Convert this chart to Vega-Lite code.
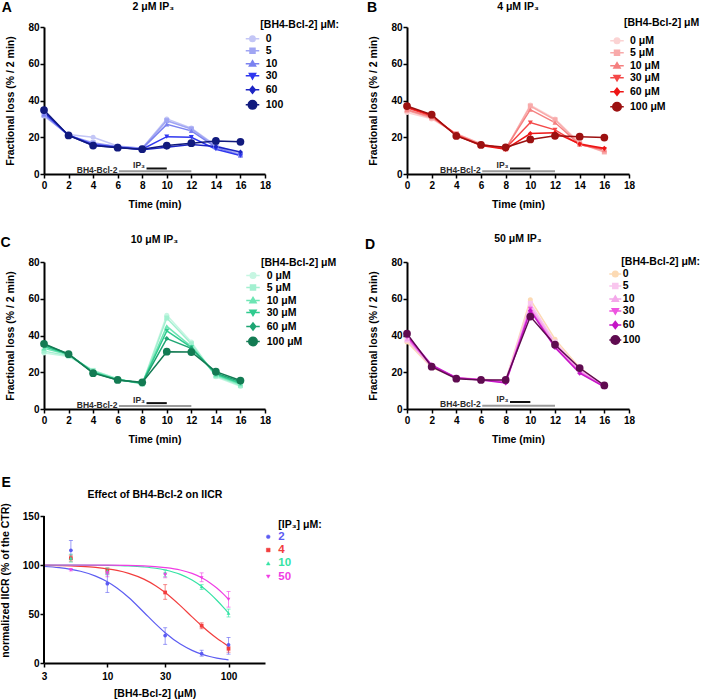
{
  "$schema": "https://vega.github.io/schema/vega-lite/v6.json",
  "autosize": "none",
  "padding": {"left": 44, "top": 27, "right": 664, "bottom": 672},
  "background": "white",
  "bounds": "flush",
  "align": "each",
  "columns": 2,
  "spacing": {"row": 88, "column": 142},
  "datasets": {
    "kin": [
      {"p":"A","c":"0","t":0,"v":31.5},{"p":"A","c":"0","t":2,"v":21.5},{"p":"A","c":"0","t":4,"v":20},{"p":"A","c":"0","t":6,"v":15.2},{"p":"A","c":"0","t":8,"v":14},{"p":"A","c":"0","t":10,"v":30},{"p":"A","c":"0","t":12,"v":25},{"p":"A","c":"0","t":14,"v":15.5},{"p":"A","c":"0","t":16,"v":11},
      {"p":"A","c":"5","t":0,"v":32},{"p":"A","c":"5","t":2,"v":21},{"p":"A","c":"5","t":4,"v":17},{"p":"A","c":"5","t":6,"v":15},{"p":"A","c":"5","t":8,"v":14},{"p":"A","c":"5","t":10,"v":29},{"p":"A","c":"5","t":12,"v":24.5},{"p":"A","c":"5","t":14,"v":15},{"p":"A","c":"5","t":16,"v":10.5},
      {"p":"A","c":"10","t":0,"v":32.5},{"p":"A","c":"10","t":2,"v":21},{"p":"A","c":"10","t":4,"v":16.5},{"p":"A","c":"10","t":6,"v":14.8},{"p":"A","c":"10","t":8,"v":13.8},{"p":"A","c":"10","t":10,"v":27},{"p":"A","c":"10","t":12,"v":23.5},{"p":"A","c":"10","t":14,"v":14.5},{"p":"A","c":"10","t":16,"v":10},
      {"p":"A","c":"30","t":0,"v":33.5},{"p":"A","c":"30","t":2,"v":21.2},{"p":"A","c":"30","t":4,"v":16},{"p":"A","c":"30","t":6,"v":14.5},{"p":"A","c":"30","t":8,"v":13.5},{"p":"A","c":"30","t":10,"v":20.3},{"p":"A","c":"30","t":12,"v":20},{"p":"A","c":"30","t":14,"v":13.5},{"p":"A","c":"30","t":16,"v":10},
      {"p":"A","c":"60","t":0,"v":34},{"p":"A","c":"60","t":2,"v":21},{"p":"A","c":"60","t":4,"v":15.5},{"p":"A","c":"60","t":6,"v":14.5},{"p":"A","c":"60","t":8,"v":13.2},{"p":"A","c":"60","t":10,"v":14.5},{"p":"A","c":"60","t":12,"v":16},{"p":"A","c":"60","t":14,"v":15},{"p":"A","c":"60","t":16,"v":12},
      {"p":"A","c":"100","t":0,"v":34.8},{"p":"A","c":"100","t":2,"v":21},{"p":"A","c":"100","t":4,"v":15.5},{"p":"A","c":"100","t":6,"v":14.3},{"p":"A","c":"100","t":8,"v":13.5},{"p":"A","c":"100","t":10,"v":15.5},{"p":"A","c":"100","t":12,"v":16.8},{"p":"A","c":"100","t":14,"v":18},{"p":"A","c":"100","t":16,"v":17.5},
      {"p":"B","c":"0","t":0,"v":33.5},{"p":"B","c":"0","t":2,"v":30},{"p":"B","c":"0","t":4,"v":22},{"p":"B","c":"0","t":6,"v":16.5},{"p":"B","c":"0","t":8,"v":13.5},{"p":"B","c":"0","t":10,"v":37.5},{"p":"B","c":"0","t":12,"v":30},{"p":"B","c":"0","t":14,"v":17},{"p":"B","c":"0","t":16,"v":12.5},
      {"p":"B","c":"5","t":0,"v":34.5},{"p":"B","c":"5","t":2,"v":30.5},{"p":"B","c":"5","t":4,"v":22},{"p":"B","c":"5","t":6,"v":16.3},{"p":"B","c":"5","t":8,"v":13.5},{"p":"B","c":"5","t":10,"v":37},{"p":"B","c":"5","t":12,"v":29.5},{"p":"B","c":"5","t":14,"v":16.5},{"p":"B","c":"5","t":16,"v":12},
      {"p":"B","c":"10","t":0,"v":35},{"p":"B","c":"10","t":2,"v":31},{"p":"B","c":"10","t":4,"v":21.5},{"p":"B","c":"10","t":6,"v":16},{"p":"B","c":"10","t":8,"v":13.8},{"p":"B","c":"10","t":10,"v":35},{"p":"B","c":"10","t":12,"v":28},{"p":"B","c":"10","t":14,"v":16},{"p":"B","c":"10","t":16,"v":13},
      {"p":"B","c":"30","t":0,"v":36},{"p":"B","c":"30","t":2,"v":31.5},{"p":"B","c":"30","t":4,"v":21.3},{"p":"B","c":"30","t":6,"v":15.8},{"p":"B","c":"30","t":8,"v":14},{"p":"B","c":"30","t":10,"v":28},{"p":"B","c":"30","t":12,"v":24},{"p":"B","c":"30","t":14,"v":16},{"p":"B","c":"30","t":16,"v":13.5},
      {"p":"B","c":"60","t":0,"v":36.5},{"p":"B","c":"60","t":2,"v":32},{"p":"B","c":"60","t":4,"v":21},{"p":"B","c":"60","t":6,"v":15.5},{"p":"B","c":"60","t":8,"v":13.5},{"p":"B","c":"60","t":10,"v":22},{"p":"B","c":"60","t":12,"v":22.5},{"p":"B","c":"60","t":14,"v":16.3},{"p":"B","c":"60","t":16,"v":14},
      {"p":"B","c":"100","t":0,"v":37},{"p":"B","c":"100","t":2,"v":32.3},{"p":"B","c":"100","t":4,"v":20.7},{"p":"B","c":"100","t":6,"v":15.8},{"p":"B","c":"100","t":8,"v":14.5},{"p":"B","c":"100","t":10,"v":18.8},{"p":"B","c":"100","t":12,"v":20.8},{"p":"B","c":"100","t":14,"v":20.3},{"p":"B","c":"100","t":16,"v":19.8},
      {"p":"C","c":"0","t":0,"v":30.5},{"p":"C","c":"0","t":2,"v":28.5},{"p":"C","c":"0","t":4,"v":21},{"p":"C","c":"0","t":6,"v":16.5},{"p":"C","c":"0","t":8,"v":13.5},{"p":"C","c":"0","t":10,"v":51},{"p":"C","c":"0","t":12,"v":36.5},{"p":"C","c":"0","t":14,"v":17.5},{"p":"C","c":"0","t":16,"v":12.3},
      {"p":"C","c":"5","t":0,"v":31.5},{"p":"C","c":"5","t":2,"v":29},{"p":"C","c":"5","t":4,"v":21},{"p":"C","c":"5","t":6,"v":16.3},{"p":"C","c":"5","t":8,"v":13.5},{"p":"C","c":"5","t":10,"v":49.5},{"p":"C","c":"5","t":12,"v":35.5},{"p":"C","c":"5","t":14,"v":18},{"p":"C","c":"5","t":16,"v":12.8},
      {"p":"C","c":"10","t":0,"v":33},{"p":"C","c":"10","t":2,"v":29.5},{"p":"C","c":"10","t":4,"v":20.5},{"p":"C","c":"10","t":6,"v":16},{"p":"C","c":"10","t":8,"v":14},{"p":"C","c":"10","t":10,"v":45},{"p":"C","c":"10","t":12,"v":34},{"p":"C","c":"10","t":14,"v":18.5},{"p":"C","c":"10","t":16,"v":13.5},
      {"p":"C","c":"30","t":0,"v":34},{"p":"C","c":"30","t":2,"v":29.8},{"p":"C","c":"30","t":4,"v":20},{"p":"C","c":"30","t":6,"v":16},{"p":"C","c":"30","t":8,"v":14},{"p":"C","c":"30","t":10,"v":42.5},{"p":"C","c":"30","t":12,"v":33.5},{"p":"C","c":"30","t":14,"v":19},{"p":"C","c":"30","t":16,"v":14},
      {"p":"C","c":"60","t":0,"v":35},{"p":"C","c":"60","t":2,"v":30},{"p":"C","c":"60","t":4,"v":19.8},{"p":"C","c":"60","t":6,"v":15.8},{"p":"C","c":"60","t":8,"v":14.2},{"p":"C","c":"60","t":10,"v":38.3},{"p":"C","c":"60","t":12,"v":33},{"p":"C","c":"60","t":14,"v":19.5},{"p":"C","c":"60","t":16,"v":14.8},
      {"p":"C","c":"100","t":0,"v":35.5},{"p":"C","c":"100","t":2,"v":29.8},{"p":"C","c":"100","t":4,"v":19.5},{"p":"C","c":"100","t":6,"v":15.8},{"p":"C","c":"100","t":8,"v":14.5},{"p":"C","c":"100","t":10,"v":31.2},{"p":"C","c":"100","t":12,"v":31},{"p":"C","c":"100","t":14,"v":20.3},{"p":"C","c":"100","t":16,"v":15.5},
      {"p":"D","c":"0","t":0,"v":36.5},{"p":"D","c":"0","t":2,"v":22.5},{"p":"D","c":"0","t":4,"v":17},{"p":"D","c":"0","t":6,"v":16.2},{"p":"D","c":"0","t":8,"v":15.5},{"p":"D","c":"0","t":10,"v":59.5},{"p":"D","c":"0","t":12,"v":38},{"p":"D","c":"0","t":14,"v":22.5},{"p":"D","c":"0","t":16,"v":12.5},
      {"p":"D","c":"5","t":0,"v":37.5},{"p":"D","c":"5","t":2,"v":23},{"p":"D","c":"5","t":4,"v":17.2},{"p":"D","c":"5","t":6,"v":16.1},{"p":"D","c":"5","t":8,"v":15.5},{"p":"D","c":"5","t":10,"v":57.5},{"p":"D","c":"5","t":12,"v":36.5},{"p":"D","c":"5","t":14,"v":21.5},{"p":"D","c":"5","t":16,"v":12.5},
      {"p":"D","c":"10","t":0,"v":38},{"p":"D","c":"10","t":2,"v":23},{"p":"D","c":"10","t":4,"v":17},{"p":"D","c":"10","t":6,"v":16},{"p":"D","c":"10","t":8,"v":15},{"p":"D","c":"10","t":10,"v":56},{"p":"D","c":"10","t":12,"v":35.5},{"p":"D","c":"10","t":14,"v":21},{"p":"D","c":"10","t":16,"v":12.3},
      {"p":"D","c":"30","t":0,"v":39},{"p":"D","c":"30","t":2,"v":23.5},{"p":"D","c":"30","t":4,"v":16.8},{"p":"D","c":"30","t":6,"v":16},{"p":"D","c":"30","t":8,"v":14.5},{"p":"D","c":"30","t":10,"v":54.5},{"p":"D","c":"30","t":12,"v":34},{"p":"D","c":"30","t":14,"v":20},{"p":"D","c":"30","t":16,"v":12.2},
      {"p":"D","c":"60","t":0,"v":40},{"p":"D","c":"60","t":2,"v":24},{"p":"D","c":"60","t":4,"v":17},{"p":"D","c":"60","t":6,"v":15.8},{"p":"D","c":"60","t":8,"v":14.2},{"p":"D","c":"60","t":10,"v":53.5},{"p":"D","c":"60","t":12,"v":33.5},{"p":"D","c":"60","t":14,"v":19.5},{"p":"D","c":"60","t":16,"v":12},
      {"p":"D","c":"100","t":0,"v":41},{"p":"D","c":"100","t":2,"v":23},{"p":"D","c":"100","t":4,"v":16.5},{"p":"D","c":"100","t":6,"v":15.8},{"p":"D","c":"100","t":8,"v":15.8},{"p":"D","c":"100","t":10,"v":50.3},{"p":"D","c":"100","t":12,"v":35},{"p":"D","c":"100","t":14,"v":22.3},{"p":"D","c":"100","t":16,"v":12.8}
    ],
    "treat": [
      {"treat": "BH4-Bcl-2", "start": 6.1, "end": 12},
      {"treat": "IP₃", "start": 8.35, "end": 10}
    ],
    "epts": [
      {"ip":"2","x":5,"v":115,"lo":106,"hi":125},{"ip":"2","x":10,"v":81,"lo":72,"hi":91},{"ip":"2","x":30,"v":28,"lo":19,"hi":36},{"ip":"2","x":60,"v":9.5,"lo":7,"hi":13},{"ip":"2","x":100,"v":18.5,"lo":9,"hi":26},
      {"ip":"4","x":5,"v":107,"lo":104,"hi":110},{"ip":"4","x":10,"v":94,"lo":91,"hi":97},{"ip":"4","x":30,"v":72,"lo":65,"hi":80},{"ip":"4","x":60,"v":38,"lo":35,"hi":41},{"ip":"4","x":100,"v":14.5,"lo":11,"hi":17},
      {"ip":"10","x":5,"v":107,"lo":103,"hi":111},{"ip":"10","x":10,"v":94,"lo":90,"hi":97},{"ip":"10","x":30,"v":92,"lo":88,"hi":95},{"ip":"10","x":60,"v":78,"lo":75,"hi":80},{"ip":"10","x":100,"v":51,"lo":47,"hi":55},
      {"ip":"50","x":5,"v":95,"lo":94,"hi":96},{"ip":"50","x":10,"v":92,"lo":88,"hi":95},{"ip":"50","x":30,"v":90,"lo":87,"hi":92},{"ip":"50","x":60,"v":87,"lo":83,"hi":92},{"ip":"50","x":100,"v":65,"lo":57,"hi":73}
    ],
    "ecurve": [
      {"ip":"2","x":3,"v":98.5},{"ip":"2","x":4,"v":97.3},{"ip":"2","x":5,"v":95.6},{"ip":"2","x":6,"v":93.6},{"ip":"2","x":8,"v":88.7},{"ip":"2","x":10,"v":82.9},{"ip":"2","x":12,"v":76.5},{"ip":"2","x":15,"v":66.8},{"ip":"2","x":20,"v":51.8},{"ip":"2","x":25,"v":39.9},{"ip":"2","x":30,"v":30.9},{"ip":"2","x":40,"v":19.3},{"ip":"2","x":50,"v":12.9},{"ip":"2","x":60,"v":9.0},{"ip":"2","x":70,"v":6.6},{"ip":"2","x":80,"v":5.05},{"ip":"2","x":90,"v":3.95},{"ip":"2","x":100,"v":3.2},
      {"ip":"4","x":3,"v":99.7},{"ip":"4","x":4,"v":99.4},{"ip":"4","x":5,"v":99.1},{"ip":"4","x":6,"v":98.6},{"ip":"4","x":8,"v":97.5},{"ip":"4","x":10,"v":96.1},{"ip":"4","x":12,"v":94.5},{"ip":"4","x":15,"v":91.5},{"ip":"4","x":20,"v":85.6},{"ip":"4","x":25,"v":78.9},{"ip":"4","x":30,"v":72.0},{"ip":"4","x":40,"v":58.6},{"ip":"4","x":50,"v":47.1},{"ip":"4","x":60,"v":38.0},{"ip":"4","x":70,"v":30.8},{"ip":"4","x":80,"v":25.2},{"ip":"4","x":90,"v":20.9},{"ip":"4","x":100,"v":17.0},
      {"ip":"10","x":3,"v":99.98},{"ip":"10","x":5,"v":99.93},{"ip":"10","x":10,"v":99.6},{"ip":"10","x":15,"v":99.0},{"ip":"10","x":20,"v":98.0},{"ip":"10","x":25,"v":96.7},{"ip":"10","x":30,"v":94.9},{"ip":"10","x":40,"v":90.4},{"ip":"10","x":50,"v":84.6},{"ip":"10","x":60,"v":78.0},{"ip":"10","x":70,"v":71.0},{"ip":"10","x":80,"v":64.0},{"ip":"10","x":90,"v":57.3},{"ip":"10","x":100,"v":51.0},
      {"ip":"50","x":3,"v":99.99},{"ip":"50","x":10,"v":99.8},{"ip":"50","x":20,"v":99.1},{"ip":"50","x":30,"v":97.4},{"ip":"50","x":40,"v":94.9},{"ip":"50","x":50,"v":91.4},{"ip":"50","x":60,"v":87.0},{"ip":"50","x":70,"v":82.0},{"ip":"50","x":80,"v":76.5},{"ip":"50","x":90,"v":70.8},{"ip":"50","x":100,"v":65.0}
    ]
  },
  "concat": [
    {
      "width": 221, "height": 147,
      "layer": [
        {"data": {"name": "kin"}, "transform": [{"filter": "datum.p === 'A'"}],
         "mark": {"type": "line", "strokeWidth": 1.5},
         "encoding": {
           "x": {"field": "t", "type": "quantitative", "scale": {"domain": [0, 18], "nice": false}, "axis": {"values": [0,2,4,6,8,10,12,14,16,18], "tickCount": 20, "labelOverlap": false, "title": "Time (min)"}},
           "y": {"field": "v", "type": "quantitative", "scale": {"domain": [0, 80], "nice": false}, "axis": {"values": [0,20,40,60,80], "tickCount": 20, "labelOverlap": false, "title": "Fractional loss (% / 2 min)"}},
           "stroke": {"field": "c", "type": "nominal", "scale": {"domain": ["0","5","10","30","60","100"], "range": ["#c3c6f6","#a0a5f3","#7b82f0","#2f37ef","#1c25c4","#111a7e"]},
             "legend": {"orient": "none", "legendX": 202.5, "legendY": -7.5, "title": "[BH4-Bcl-2] μM:", "titlePadding": 2.85, "labelOffset": 7.2, "rowPadding": 0, "symbolSize": 100, "symbolStrokeWidth": 1.5,
               "encode": {
                 "symbols": {"update": {
                   "shape": {"signal": "({'0':'M-1.35,0H1.35M-0.55,0A0.55,0.55,0,1,1,0.55,0A0.55,0.55,0,1,1,-0.55,0Z','5':'M-1.35,0H1.35M-0.5,-0.5H0.5V0.5H-0.5Z','10':'M-1.35,0H1.35M0,-0.62L0.62,0.45H-0.62Z','30':'M-1.35,0H1.35M0,0.62L0.62,-0.45H-0.62Z','60':'M-1.35,0H1.35M0,-0.7L0.55,0L0,0.7L-0.55,0Z','100':'M-1.35,0H1.35M-0.85,0A0.85,0.85,0,1,1,0.85,0A0.85,0.85,0,1,1,-0.85,0Z'})[datum.value]"},
                   "fill": {"signal": "({'0':'#c3c6f6','5':'#a0a5f3','10':'#7b82f0','30':'#2f37ef','60':'#1c25c4','100':'#111a7e'})[datum.value]"},
                   "size": {"value": 100}, "strokeWidth": {"value": 1.5}, "opacity": {"value": 1}
                 }},
                 "title": {"update": {"dx": {"value": 13.8}}}
               }}}
         }},
        {"data": {"name": "kin"}, "transform": [{"filter": "datum.p === 'A' && datum.c !== '100'"}],
         "mark": {"type": "point", "filled": true, "size": 25, "opacity": 1, "strokeWidth": 0},
         "encoding": {
           "x": {"field": "t", "type": "quantitative"}, "y": {"field": "v", "type": "quantitative"},
           "fill": {"field": "c", "type": "nominal", "scale": {"domain": ["100","60","30","10","5","0"], "range": ["#111a7e","#1c25c4","#2f37ef","#7b82f0","#a0a5f3","#c3c6f6"]}, "legend": null},
           "shape": {"field": "c", "type": "nominal", "scale": {"domain": ["100","60","30","10","5","0"], "range": ["circle","diamond","triangle-down","triangle-up","square","circle"]}, "legend": null}
         }},
        {"data": {"name": "kin"}, "transform": [{"filter": "datum.p === 'A' && datum.c === '100'"}],
         "mark": {"type": "point", "filled": true, "size": 60, "opacity": 1, "strokeWidth": 0},
         "encoding": {
           "x": {"field": "t", "type": "quantitative"}, "y": {"field": "v", "type": "quantitative"},
           "fill": {"field": "c", "type": "nominal", "legend": null}, "shape": {"field": "c", "type": "nominal", "legend": null}
         }},
        {"data": {"name": "treat"}, "transform": [{"filter": "datum.treat === 'BH4-Bcl-2'"}],
         "mark": {"type": "rule", "color": "#9a9a9a", "strokeWidth": 2},
         "encoding": {"x": {"field": "start", "type": "quantitative"}, "x2": {"field": "end"}, "y": {"datum": 1.5}}},
        {"data": {"name": "treat"}, "transform": [{"filter": "datum.treat !== 'BH4-Bcl-2'"}],
         "mark": {"type": "rule", "color": "#111111", "strokeWidth": 2},
         "encoding": {"x": {"field": "start", "type": "quantitative"}, "x2": {"field": "end"}, "y": {"datum": 3}}},
        {"data": {"name": "treat"}, "transform": [{"filter": "datum.treat === 'BH4-Bcl-2'"}],
         "mark": {"type": "text", "align": "right", "baseline": "middle", "dx": -1.5, "fontSize": 8.5, "fontWeight": "bold", "color": "#2a2a2a"},
         "encoding": {"x": {"field": "start", "type": "quantitative"}, "y": {"datum": 2.1}, "text": {"field": "treat"}}},
        {"data": {"name": "treat"}, "transform": [{"filter": "datum.treat !== 'BH4-Bcl-2'"}],
         "mark": {"type": "text", "align": "right", "baseline": "middle", "dx": -1.5, "fontSize": 8.5, "fontWeight": "bold", "color": "#2a2a2a"},
         "encoding": {"x": {"field": "start", "type": "quantitative"}, "y": {"datum": 4.8}, "text": {"field": "treat"}}},
        {"data": {"values": [{}]},
         "mark": {"type": "text", "text": "2 μM IP₃", "fontSize": 10.5, "fontWeight": "bold", "align": "center", "baseline": "middle", "color": "#000000"},
         "encoding": {"x": {"datum": 8.9}, "y": {"datum": 91}}},
        {"data": {"values": [{}]},
         "mark": {"type": "text", "text": "A", "fontSize": 14, "fontWeight": "bold", "align": "left", "baseline": "middle", "color": "#000000"},
         "encoding": {"x": {"datum": -3.44}, "y": {"datum": 90.6}}}
      ]
    },
    {
      "width": 222, "height": 147,
      "layer": [
        {"data": {"name": "kin"}, "transform": [{"filter": "datum.p === 'B'"}],
         "mark": {"type": "line", "strokeWidth": 1.5},
         "encoding": {
           "x": {"field": "t", "type": "quantitative", "scale": {"domain": [0, 18], "nice": false}, "axis": {"values": [0,2,4,6,8,10,12,14,16,18], "tickCount": 20, "labelOverlap": false, "title": "Time (min)"}},
           "y": {"field": "v", "type": "quantitative", "scale": {"domain": [0, 80], "nice": false}, "axis": {"values": [0,20,40,60,80], "tickCount": 20, "labelOverlap": false, "title": "Fractional loss (% / 2 min)"}},
           "stroke": {"field": "c", "type": "nominal", "scale": {"domain": ["0","5","10","30","60","100"], "range": ["#fbd3d3","#f8aaaa","#f58080","#f44848","#ee1414","#9c1111"]},
             "legend": {"orient": "none", "legendX": 204, "legendY": -9.25, "title": "[BH4-Bcl-2] μM", "titlePadding": 6.5, "labelOffset": 7, "rowPadding": 0, "symbolSize": 100, "symbolStrokeWidth": 1.5, "labelExpr": "datum.label + ' μM'",
               "encode": {
                 "symbols": {"update": {
                   "shape": {"signal": "({'0':'M-1.35,0H1.35M-0.55,0A0.55,0.55,0,1,1,0.55,0A0.55,0.55,0,1,1,-0.55,0Z','5':'M-1.35,0H1.35M-0.5,-0.5H0.5V0.5H-0.5Z','10':'M-1.35,0H1.35M0,-0.62L0.62,0.45H-0.62Z','30':'M-1.35,0H1.35M0,0.62L0.62,-0.45H-0.62Z','60':'M-1.35,0H1.35M0,-0.7L0.55,0L0,0.7L-0.55,0Z','100':'M-1.35,0H1.35M-0.85,0A0.85,0.85,0,1,1,0.85,0A0.85,0.85,0,1,1,-0.85,0Z'})[datum.value]"},
                   "fill": {"signal": "({'0':'#fbd3d3','5':'#f8aaaa','10':'#f58080','30':'#f44848','60':'#ee1414','100':'#9c1111'})[datum.value]"},
                   "size": {"value": 100}, "strokeWidth": {"value": 1.5}, "opacity": {"value": 1}
                 }},
                 "title": {"update": {"dx": {"value": 13}}}
               }}}
         }},
        {"data": {"name": "kin"}, "transform": [{"filter": "datum.p === 'B' && datum.c !== '100'"}],
         "mark": {"type": "point", "filled": true, "size": 25, "opacity": 1, "strokeWidth": 0},
         "encoding": {
           "x": {"field": "t", "type": "quantitative"}, "y": {"field": "v", "type": "quantitative"},
           "fill": {"field": "c", "type": "nominal", "scale": {"domain": ["100","60","30","10","5","0"], "range": ["#9c1111","#ee1414","#f44848","#f58080","#f8aaaa","#fbd3d3"]}, "legend": null},
           "shape": {"field": "c", "type": "nominal", "scale": {"domain": ["100","60","30","10","5","0"], "range": ["circle","diamond","triangle-down","triangle-up","square","circle"]}, "legend": null}
         }},
        {"data": {"name": "kin"}, "transform": [{"filter": "datum.p === 'B' && datum.c === '100'"}],
         "mark": {"type": "point", "filled": true, "size": 60, "opacity": 1, "strokeWidth": 0},
         "encoding": {
           "x": {"field": "t", "type": "quantitative"}, "y": {"field": "v", "type": "quantitative"},
           "fill": {"field": "c", "type": "nominal", "legend": null}, "shape": {"field": "c", "type": "nominal", "legend": null}
         }},
        {"data": {"name": "treat"}, "transform": [{"filter": "datum.treat === 'BH4-Bcl-2'"}],
         "mark": {"type": "rule", "color": "#9a9a9a", "strokeWidth": 2},
         "encoding": {"x": {"field": "start", "type": "quantitative"}, "x2": {"field": "end"}, "y": {"datum": 1.5}}},
        {"data": {"name": "treat"}, "transform": [{"filter": "datum.treat !== 'BH4-Bcl-2'"}],
         "mark": {"type": "rule", "color": "#111111", "strokeWidth": 2},
         "encoding": {"x": {"field": "start", "type": "quantitative"}, "x2": {"field": "end"}, "y": {"datum": 3}}},
        {"data": {"name": "treat"}, "transform": [{"filter": "datum.treat === 'BH4-Bcl-2'"}],
         "mark": {"type": "text", "align": "right", "baseline": "middle", "dx": -1.5, "fontSize": 8.5, "fontWeight": "bold", "color": "#2a2a2a"},
         "encoding": {"x": {"field": "start", "type": "quantitative"}, "y": {"datum": 2.1}, "text": {"field": "treat"}}},
        {"data": {"name": "treat"}, "transform": [{"filter": "datum.treat !== 'BH4-Bcl-2'"}],
         "mark": {"type": "text", "align": "right", "baseline": "middle", "dx": -1.5, "fontSize": 8.5, "fontWeight": "bold", "color": "#2a2a2a"},
         "encoding": {"x": {"field": "start", "type": "quantitative"}, "y": {"datum": 4.8}, "text": {"field": "treat"}}},
        {"data": {"values": [{}]},
         "mark": {"type": "text", "text": "4 μM IP₃", "fontSize": 10.5, "fontWeight": "bold", "align": "center", "baseline": "middle", "color": "#000000"},
         "encoding": {"x": {"datum": 9}, "y": {"datum": 91}}},
        {"data": {"values": [{}]},
         "mark": {"type": "text", "text": "B", "fontSize": 14, "fontWeight": "bold", "align": "left", "baseline": "middle", "color": "#000000"},
         "encoding": {"x": {"datum": -3.24}, "y": {"datum": 90.6}}}
      ]
    },
    {
      "width": 221, "height": 147,
      "layer": [
        {"data": {"name": "kin"}, "transform": [{"filter": "datum.p === 'C'"}],
         "mark": {"type": "line", "strokeWidth": 1.5},
         "encoding": {
           "x": {"field": "t", "type": "quantitative", "scale": {"domain": [0, 18], "nice": false}, "axis": {"values": [0,2,4,6,8,10,12,14,16,18], "tickCount": 20, "labelOverlap": false, "title": "Time (min)"}},
           "y": {"field": "v", "type": "quantitative", "scale": {"domain": [0, 80], "nice": false}, "axis": {"values": [0,20,40,60,80], "tickCount": 20, "labelOverlap": false, "title": "Fractional loss (% / 2 min)"}},
           "stroke": {"field": "c", "type": "nominal", "scale": {"domain": ["0","5","10","30","60","100"], "range": ["#c6f6e2","#a2f0d0","#6de5b4","#30cb8f","#1ea573","#137b53"]},
             "legend": {"orient": "none", "legendX": 203, "legendY": -4.5, "title": "[BH4-Bcl-2] μM", "titlePadding": 1.5, "labelOffset": 7.7, "rowPadding": 0, "symbolSize": 100, "symbolStrokeWidth": 1.5, "labelExpr": "datum.label + ' μM'",
               "encode": {
                 "symbols": {"update": {
                   "shape": {"signal": "({'0':'M-1.35,0H1.35M-0.55,0A0.55,0.55,0,1,1,0.55,0A0.55,0.55,0,1,1,-0.55,0Z','5':'M-1.35,0H1.35M-0.5,-0.5H0.5V0.5H-0.5Z','10':'M-1.35,0H1.35M0,-0.62L0.62,0.45H-0.62Z','30':'M-1.35,0H1.35M0,0.62L0.62,-0.45H-0.62Z','60':'M-1.35,0H1.35M0,-0.7L0.55,0L0,0.7L-0.55,0Z','100':'M-1.35,0H1.35M-0.85,0A0.85,0.85,0,1,1,0.85,0A0.85,0.85,0,1,1,-0.85,0Z'})[datum.value]"},
                   "fill": {"signal": "({'0':'#c6f6e2','5':'#a2f0d0','10':'#6de5b4','30':'#30cb8f','60':'#1ea573','100':'#137b53'})[datum.value]"},
                   "size": {"value": 100}, "strokeWidth": {"value": 1.5}, "opacity": {"value": 1}
                 }},
                 "title": {"update": {"dx": {"value": 14}}}
               }}}
         }},
        {"data": {"name": "kin"}, "transform": [{"filter": "datum.p === 'C' && datum.c !== '100'"}],
         "mark": {"type": "point", "filled": true, "size": 25, "opacity": 1, "strokeWidth": 0},
         "encoding": {
           "x": {"field": "t", "type": "quantitative"}, "y": {"field": "v", "type": "quantitative"},
           "fill": {"field": "c", "type": "nominal", "scale": {"domain": ["100","60","30","10","5","0"], "range": ["#137b53","#1ea573","#30cb8f","#6de5b4","#a2f0d0","#c6f6e2"]}, "legend": null},
           "shape": {"field": "c", "type": "nominal", "scale": {"domain": ["100","60","30","10","5","0"], "range": ["circle","diamond","triangle-down","triangle-up","square","circle"]}, "legend": null}
         }},
        {"data": {"name": "kin"}, "transform": [{"filter": "datum.p === 'C' && datum.c === '100'"}],
         "mark": {"type": "point", "filled": true, "size": 60, "opacity": 1, "strokeWidth": 0},
         "encoding": {
           "x": {"field": "t", "type": "quantitative"}, "y": {"field": "v", "type": "quantitative"},
           "fill": {"field": "c", "type": "nominal", "legend": null}, "shape": {"field": "c", "type": "nominal", "legend": null}
         }},
        {"data": {"name": "treat"}, "transform": [{"filter": "datum.treat === 'BH4-Bcl-2'"}],
         "mark": {"type": "rule", "color": "#9a9a9a", "strokeWidth": 2},
         "encoding": {"x": {"field": "start", "type": "quantitative"}, "x2": {"field": "end"}, "y": {"datum": 1.6}}},
        {"data": {"name": "treat"}, "transform": [{"filter": "datum.treat !== 'BH4-Bcl-2'"}],
         "mark": {"type": "rule", "color": "#111111", "strokeWidth": 2},
         "encoding": {"x": {"field": "start", "type": "quantitative"}, "x2": {"field": "end"}, "y": {"datum": 3.2}}},
        {"data": {"name": "treat"}, "transform": [{"filter": "datum.treat === 'BH4-Bcl-2'"}],
         "mark": {"type": "text", "align": "right", "baseline": "middle", "dx": -1.5, "fontSize": 8.5, "fontWeight": "bold", "color": "#2a2a2a"},
         "encoding": {"x": {"field": "start", "type": "quantitative"}, "y": {"datum": 2.2}, "text": {"field": "treat"}}},
        {"data": {"name": "treat"}, "transform": [{"filter": "datum.treat !== 'BH4-Bcl-2'"}],
         "mark": {"type": "text", "align": "right", "baseline": "middle", "dx": -1.5, "fontSize": 8.5, "fontWeight": "bold", "color": "#2a2a2a"},
         "encoding": {"x": {"field": "start", "type": "quantitative"}, "y": {"datum": 5}, "text": {"field": "treat"}}},
        {"data": {"values": [{}]},
         "mark": {"type": "text", "text": "10 μM IP₃", "fontSize": 10.5, "fontWeight": "bold", "align": "center", "baseline": "middle", "color": "#000000"},
         "encoding": {"x": {"datum": 9}, "y": {"datum": 92}}},
        {"data": {"values": [{}]},
         "mark": {"type": "text", "text": "C", "fontSize": 14, "fontWeight": "bold", "align": "left", "baseline": "middle", "color": "#000000"},
         "encoding": {"x": {"datum": -3.54}, "y": {"datum": 90.3}}}
      ]
    },
    {
      "width": 222, "height": 147,
      "layer": [
        {"data": {"name": "kin"}, "transform": [{"filter": "datum.p === 'D'"}],
         "mark": {"type": "line", "strokeWidth": 1.5},
         "encoding": {
           "x": {"field": "t", "type": "quantitative", "scale": {"domain": [0, 18], "nice": false}, "axis": {"values": [0,2,4,6,8,10,12,14,16,18], "tickCount": 20, "labelOverlap": false, "title": "Time (min)"}},
           "y": {"field": "v", "type": "quantitative", "scale": {"domain": [0, 80], "nice": false}, "axis": {"values": [0,20,40,60,80], "tickCount": 20, "labelOverlap": false, "title": "Fractional loss (% / 2 min)"}},
           "stroke": {"field": "c", "type": "nominal", "scale": {"domain": ["0","5","10","30","60","100"], "range": ["#fcdab4","#f9c6ee","#f4a8ea","#ee55e0","#c416c6","#5f0b50"]},
             "legend": {"orient": "none", "legendX": 202.3, "legendY": -5.5, "title": "[BH4-Bcl-2] μM:", "titlePadding": 1, "labelOffset": 1.5, "rowPadding": 0, "symbolSize": 100, "symbolStrokeWidth": 1.5,
               "encode": {
                 "symbols": {"update": {
                   "shape": {"signal": "({'0':'M-1.2,0H1.2M-0.55,0A0.55,0.55,0,1,1,0.55,0A0.55,0.55,0,1,1,-0.55,0Z','5':'M-1.2,0H1.2M-0.5,-0.5H0.5V0.5H-0.5Z','10':'M-1.2,0H1.2M0,-0.62L0.62,0.45H-0.62Z','30':'M-1.2,0H1.2M0,0.62L0.62,-0.45H-0.62Z','60':'M-1.2,0H1.2M0,-0.7L0.55,0L0,0.7L-0.55,0Z','100':'M-1.2,0H1.2M-0.85,0A0.85,0.85,0,1,1,0.85,0A0.85,0.85,0,1,1,-0.85,0Z'})[datum.value]"},
                   "fill": {"signal": "({'0':'#fcdab4','5':'#f9c6ee','10':'#f4a8ea','30':'#ee55e0','60':'#c416c6','100':'#5f0b50'})[datum.value]"},
                   "size": {"value": 100}, "strokeWidth": {"value": 1.5}, "opacity": {"value": 1}
                 }},
                 "title": {"update": {"dx": {"value": 12}}}
               }}}
         }},
        {"data": {"name": "kin"}, "transform": [{"filter": "datum.p === 'D' && datum.c !== '100'"}],
         "mark": {"type": "point", "filled": true, "size": 25, "opacity": 1, "strokeWidth": 0},
         "encoding": {
           "x": {"field": "t", "type": "quantitative"}, "y": {"field": "v", "type": "quantitative"},
           "fill": {"field": "c", "type": "nominal", "scale": {"domain": ["100","60","30","10","5","0"], "range": ["#5f0b50","#c416c6","#ee55e0","#f4a8ea","#f9c6ee","#fcdab4"]}, "legend": null},
           "shape": {"field": "c", "type": "nominal", "scale": {"domain": ["100","60","30","10","5","0"], "range": ["circle","diamond","triangle-down","triangle-up","square","circle"]}, "legend": null}
         }},
        {"data": {"name": "kin"}, "transform": [{"filter": "datum.p === 'D' && datum.c === '100'"}],
         "mark": {"type": "point", "filled": true, "size": 60, "opacity": 1, "strokeWidth": 0},
         "encoding": {
           "x": {"field": "t", "type": "quantitative"}, "y": {"field": "v", "type": "quantitative"},
           "fill": {"field": "c", "type": "nominal", "legend": null}, "shape": {"field": "c", "type": "nominal", "legend": null}
         }},
        {"data": {"name": "treat"}, "transform": [{"filter": "datum.treat === 'BH4-Bcl-2'"}],
         "mark": {"type": "rule", "color": "#9a9a9a", "strokeWidth": 2},
         "encoding": {"x": {"field": "start", "type": "quantitative"}, "x2": {"field": "end"}, "y": {"datum": 1.8}}},
        {"data": {"name": "treat"}, "transform": [{"filter": "datum.treat !== 'BH4-Bcl-2'"}],
         "mark": {"type": "rule", "color": "#111111", "strokeWidth": 2},
         "encoding": {"x": {"field": "start", "type": "quantitative"}, "x2": {"field": "end"}, "y": {"datum": 3.8}}},
        {"data": {"name": "treat"}, "transform": [{"filter": "datum.treat === 'BH4-Bcl-2'"}],
         "mark": {"type": "text", "align": "right", "baseline": "middle", "dx": -1.5, "fontSize": 8.5, "fontWeight": "bold", "color": "#2a2a2a"},
         "encoding": {"x": {"field": "start", "type": "quantitative"}, "y": {"datum": 2.7}, "text": {"field": "treat"}}},
        {"data": {"name": "treat"}, "transform": [{"filter": "datum.treat !== 'BH4-Bcl-2'"}],
         "mark": {"type": "text", "align": "right", "baseline": "middle", "dx": -1.5, "fontSize": 8.5, "fontWeight": "bold", "color": "#2a2a2a"},
         "encoding": {"x": {"field": "start", "type": "quantitative"}, "y": {"datum": 5.4}, "text": {"field": "treat"}}},
        {"data": {"values": [{}]},
         "mark": {"type": "text", "text": "50 μM IP₃", "fontSize": 10.5, "fontWeight": "bold", "align": "center", "baseline": "middle", "color": "#000000"},
         "encoding": {"x": {"datum": 9}, "y": {"datum": 92.3}}},
        {"data": {"values": [{}]},
         "mark": {"type": "text", "text": "D", "fontSize": 14, "fontWeight": "bold", "align": "left", "baseline": "middle", "color": "#000000"},
         "encoding": {"x": {"datum": -3.41}, "y": {"datum": 89.3}}}
      ]
    },
    {
      "width": 221, "height": 166,
      "layer": [
        {"data": {"name": "ecurve"},
         "mark": {"type": "line", "strokeWidth": 1.2, "interpolate": "monotone"},
         "encoding": {
           "x": {"field": "x", "type": "quantitative", "scale": {"type": "log", "domain": [3, 200], "nice": false}, "axis": {"values": [3,10,30,100], "format": "d", "title": "[BH4-Bcl-2] (μM)", "labelPadding": 4.5, "titlePadding": 7}},
           "y": {"field": "v", "type": "quantitative", "title": "normalized IICR (% of the CTR)", "scale": {"domain": [0, 169.4], "nice": false, "zero": true}, "axis": {"values": [0,50,100,150], "domain": false, "title": "normalized IICR (% of the CTR)"}},
           "stroke": {"field": "ip", "type": "nominal", "scale": {"domain": ["2","4","10","50"], "range": ["#5c5cf2","#f23d3d","#34e3a4","#f03de4"]},
             "legend": {"orient": "none", "legendX": 218.5, "legendY": 23, "title": "[IP₃] μM:", "titlePadding": 0.5, "labelOffset": 4.3, "labelFontSize": 11.5, "rowPadding": 0.3, "symbolSize": 14,
               "encode": {
                 "symbols": {"update": {
                   "shape": {"signal": "({'2':'circle','4':'square','10':'triangle-up','50':'triangle-down'})[datum.value]"},
                   "fill": {"signal": "({'2':'#5c5cf2','4':'#f23d3d','10':'#34e3a4','50':'#f03de4'})[datum.value]"},
                   "size": {"value": 14}, "strokeWidth": {"value": 0.5}, "opacity": {"value": 1}
                 }},
                 "labels": {"update": {"fill": {"signal": "({'2':'#5c5cf2','4':'#f23d3d','10':'#34e3a4','50':'#f03de4'})[datum.value]"}}},
                 "title": {"update": {"dx": {"value": 15.8}}}
               }}}
         }},
        {"data": {"name": "epts"},
         "mark": {"type": "errorbar", "ticks": {"size": 4}, "thickness": 1, "opacity": 0.6},
         "encoding": {
           "x": {"field": "x", "type": "quantitative"},
           "y": {"field": "lo", "type": "quantitative", "title": "normalized IICR (% of the CTR)"}, "y2": {"field": "hi", "title": "normalized IICR (% of the CTR)"},
           "color": {"field": "ip", "type": "nominal", "scale": {"domain": ["2","4","10","50"], "range": ["#5c5cf2","#f23d3d","#34e3a4","#f03de4"]}, "legend": null}
         }},
        {"data": {"name": "epts"},
         "mark": {"type": "point", "filled": true, "size": 14, "opacity": 1},
         "encoding": {
           "x": {"field": "x", "type": "quantitative"}, "y": {"field": "v", "type": "quantitative", "title": "normalized IICR (% of the CTR)"},
           "fill": {"field": "ip", "type": "nominal", "scale": {"domain": ["2","4","10","50"], "range": ["#5c5cf2","#f23d3d","#34e3a4","#f03de4"]}, "legend": null},
           "shape": {"field": "ip", "type": "nominal", "scale": {"domain": ["2","4","10","50"], "range": ["circle","square","triangle-up","triangle-down"]}, "legend": null}
         }},
        {"data": {"values": [{}]},
         "mark": {"type": "rule", "strokeWidth": 2, "color": "#000000"},
         "encoding": {"x": {"datum": 3}, "y": {"datum": 0}, "y2": {"datum": 150}}},
        {"data": {"values": [{}]},
         "mark": {"type": "text", "text": "Effect of BH4-Bcl-2 on IICR", "fontSize": 10.5, "fontWeight": "bold", "align": "center", "baseline": "middle", "color": "#000000"},
         "encoding": {"x": {"datum": 24.7}, "y": {"datum": 171.4}}},
        {"data": {"values": [{}]},
         "mark": {"type": "text", "text": "E", "fontSize": 14, "fontWeight": "bold", "align": "left", "baseline": "middle", "color": "#000000"},
         "encoding": {"x": {"datum": 1.34}, "y": {"datum": 183.7}}}
      ]
    }
  ],
  "resolve": {
    "scale": {"stroke": "independent", "fill": "independent", "shape": "independent", "color": "independent"},
    "legend": {"stroke": "independent", "fill": "independent", "shape": "independent", "color": "independent"}
  },
  "config": {
    "view": {"stroke": null},
    "font": "Liberation Sans",
    "text": {"font": "Liberation Sans"},
    "axis": {"labelFont": "Liberation Sans", "labelFontSize": 10, "labelFontWeight": "bold", "labelColor": "#000000", "titleFont": "Liberation Sans", "titleFontSize": 10.5, "titleFontWeight": "bold", "titleColor": "#000000", "domainColor": "#000000", "domainWidth": 2, "tickColor": "#000000", "tickWidth": 1.5, "tickSize": 4, "grid": false, "labelPadding": 2, "labelFlush": false, "labelOverlap": false},
    "axisX": {"titlePadding": 9},
    "axisY": {"titlePadding": 12, "labelPadding": 1},
    "legend": {"labelFont": "Liberation Sans", "labelFontSize": 10.5, "labelFontWeight": "bold", "labelColor": "#000000", "titleFont": "Liberation Sans", "titleFontSize": 10.5, "titleFontWeight": "bold", "titleColor": "#000000", "padding": 0, "titleLimit": 300, "labelLimit": 200}
  }
}
